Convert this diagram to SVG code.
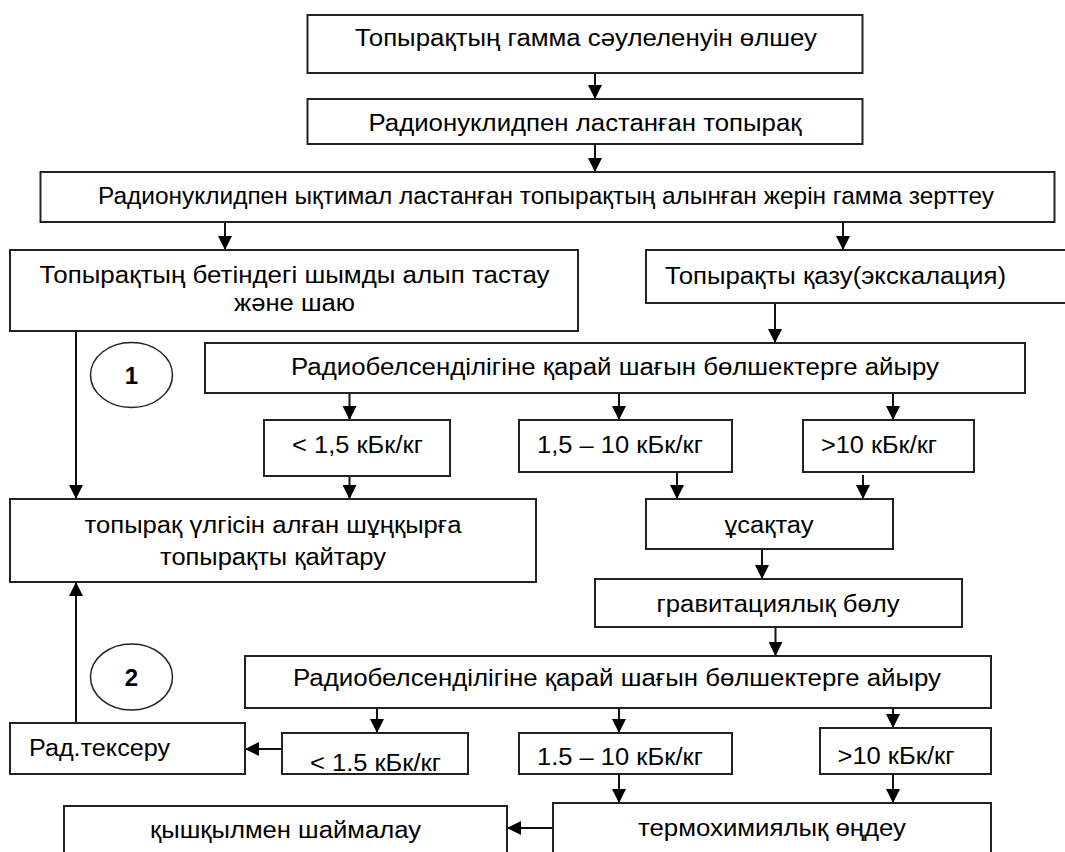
<svg xmlns="http://www.w3.org/2000/svg" width="1065" height="852" viewBox="0 0 1065 852">
<defs>
<style>
.b{fill:#fff;stroke:#222;stroke-width:2}
.t{font-family:"Liberation Sans",Arial,sans-serif;font-size:23px;fill:#000}
.c{text-anchor:middle}
.n{font-family:"Liberation Sans",Arial,sans-serif;font-size:24px;font-weight:bold;text-anchor:middle;fill:#000}
.a{stroke:#111;stroke-width:2;fill:none;marker-end:url(#ah)}
</style>
<marker id="ah" markerUnits="userSpaceOnUse" markerWidth="14" markerHeight="14" viewBox="0 0 12 12" refX="12" refY="6" orient="auto">
<path d="M0,0 L12,6 L0,12 z" fill="#000"/>
</marker>
</defs>
<rect width="1065" height="852" fill="#fff"/>
<g id="connectors">
<line class="a" x1="595" y1="73" x2="595" y2="99"/>
<line class="a" x1="595" y1="144" x2="595" y2="172"/>
<line class="a" x1="225" y1="222" x2="225" y2="250"/>
<line class="a" x1="843" y1="222" x2="843" y2="250"/>
<line class="a" x1="775" y1="303" x2="775" y2="343"/>
<line class="a" x1="76" y1="331" x2="76" y2="499"/>
<line class="a" x1="349.5" y1="393" x2="349.5" y2="420"/>
<line class="a" x1="619" y1="393" x2="619" y2="420"/>
<line class="a" x1="893" y1="393" x2="893" y2="420"/>
<line class="a" x1="349.5" y1="476" x2="349.5" y2="499"/>
<line class="a" x1="677" y1="472" x2="677" y2="499"/>
<line class="a" x1="863" y1="475" x2="863" y2="499"/>
<line class="a" x1="762" y1="549" x2="762" y2="579"/>
<line class="a" x1="775.5" y1="627" x2="775.5" y2="656"/>
<line class="a" x1="377" y1="708" x2="377" y2="733"/>
<line class="a" x1="619" y1="708" x2="619" y2="733"/>
<line class="a" x1="893" y1="708" x2="893" y2="728"/>
<line class="a" x1="76" y1="723" x2="76" y2="582"/>
<line class="a" x1="282" y1="749" x2="245" y2="749"/>
<line class="a" x1="619" y1="774" x2="619" y2="803"/>
<line class="a" x1="893" y1="774" x2="893" y2="803"/>
<line class="a" x1="553" y1="828" x2="507" y2="828"/>
</g>
<g id="n1"><rect class="b" x="307.5" y="15" width="555" height="58"/><text class="t c" x="586" y="46" textLength="462" lengthAdjust="spacingAndGlyphs">Топырақтың гамма сәулеленуін өлшеу</text></g>
<g id="n2"><rect class="b" x="307.5" y="99" width="555" height="45"/><text class="t c" x="585" y="131" textLength="433" lengthAdjust="spacingAndGlyphs">Радионуклидпен ластанған топырақ</text></g>
<g id="n3"><rect class="b" x="40.5" y="172" width="1014" height="50"/><text class="t c" x="546" y="203.5" textLength="896" lengthAdjust="spacingAndGlyphs">Радионуклидпен ықтимал ластанған топырақтың алынған жерін гамма зерттеу</text></g>
<g id="n4"><rect class="b" x="10" y="250" width="568" height="81"/><text class="t c" x="294.5" y="282.5" textLength="510" lengthAdjust="spacingAndGlyphs">Топырақтың бетіндегі шымды алып тастау</text><text class="t c" x="294.5" y="311" textLength="121" lengthAdjust="spacingAndGlyphs">жəне шаю</text></g>
<g id="n5"><rect class="b" x="646" y="250" width="430" height="53"/><text class="t" x="665" y="283.5" textLength="341" lengthAdjust="spacingAndGlyphs">Топырақты қазу(экскалация)</text></g>
<g id="c1"><ellipse cx="131.5" cy="375" rx="41" ry="32.5" fill="#fff" stroke="#222" stroke-width="1.5"/><text class="n" x="131.5" y="384">1</text></g>
<g id="n6"><rect class="b" x="205" y="343" width="820" height="50"/><text class="t c" x="615" y="375" textLength="648" lengthAdjust="spacingAndGlyphs">Радиобелсенділігіне қарай шағын бөлшектерге айыру</text></g>
<g id="n7"><rect class="b" x="264" y="420" width="186" height="56"/><text class="t c" x="357.5" y="452.5" textLength="131" lengthAdjust="spacingAndGlyphs">&lt; 1,5 кБк/кг</text></g>
<g id="n8"><rect class="b" x="519" y="420" width="213" height="52"/><text class="t c" x="620" y="452.5" textLength="166" lengthAdjust="spacingAndGlyphs">1,5 – 10 кБк/кг</text></g>
<g id="n10"><rect class="b" x="803" y="420" width="171" height="52"/><text class="t c" x="879" y="452.5" textLength="116" lengthAdjust="spacingAndGlyphs">&gt;10 кБк/кг</text></g>
<g id="n9"><rect class="b" x="10" y="499" width="526" height="83"/><text class="t c" x="273" y="533" textLength="377" lengthAdjust="spacingAndGlyphs">топырақ үлгісін алған шұңқырға</text><text class="t c" x="273" y="565" textLength="226" lengthAdjust="spacingAndGlyphs">топырақты қайтару</text></g>
<g id="n11"><rect class="b" x="646" y="499" width="247" height="50"/><text class="t c" x="769" y="533" textLength="89" lengthAdjust="spacingAndGlyphs">ұсақтау</text></g>
<g id="n12"><rect class="b" x="595" y="579" width="367" height="48"/><text class="t c" x="778" y="611.5" textLength="243" lengthAdjust="spacingAndGlyphs">гравитациялық бөлу</text></g>
<g id="c2"><ellipse cx="131.5" cy="677" rx="41" ry="33" fill="#fff" stroke="#222" stroke-width="1.5"/><text class="n" x="131.5" y="686">2</text></g>
<g id="n13"><rect class="b" x="245" y="656" width="746" height="52"/><text class="t c" x="617" y="686" textLength="648" lengthAdjust="spacingAndGlyphs">Радиобелсенділігіне қарай шағын бөлшектерге айыру</text></g>
<g id="n14"><rect class="b" x="10" y="723" width="235" height="51"/><text class="t" x="29" y="755.5" textLength="141" lengthAdjust="spacingAndGlyphs">Рад.тексеру</text></g>
<g id="n15"><rect class="b" x="282" y="733" width="186" height="41"/><text class="t c" x="375.5" y="771" textLength="131" lengthAdjust="spacingAndGlyphs">&lt; 1.5 кБк/кг</text></g>
<g id="n16"><rect class="b" x="519" y="733" width="213" height="41"/><text class="t c" x="620" y="765" textLength="166" lengthAdjust="spacingAndGlyphs">1.5 – 10 кБк/кг</text></g>
<g id="n17"><rect class="b" x="820" y="728" width="171" height="46"/><text class="t c" x="896" y="763.5" textLength="117" lengthAdjust="spacingAndGlyphs">&gt;10 кБк/кг</text></g>
<g id="n18"><rect class="b" x="553" y="803" width="438" height="60"/><text class="t c" x="772" y="835.5" textLength="268" lengthAdjust="spacingAndGlyphs">термохимиялық өңдеу</text></g>
<g id="n19"><rect class="b" x="64" y="806" width="443" height="60"/><text class="t c" x="285.5" y="837.5" textLength="271" lengthAdjust="spacingAndGlyphs">қышқылмен шаймалау</text></g>
</svg>
